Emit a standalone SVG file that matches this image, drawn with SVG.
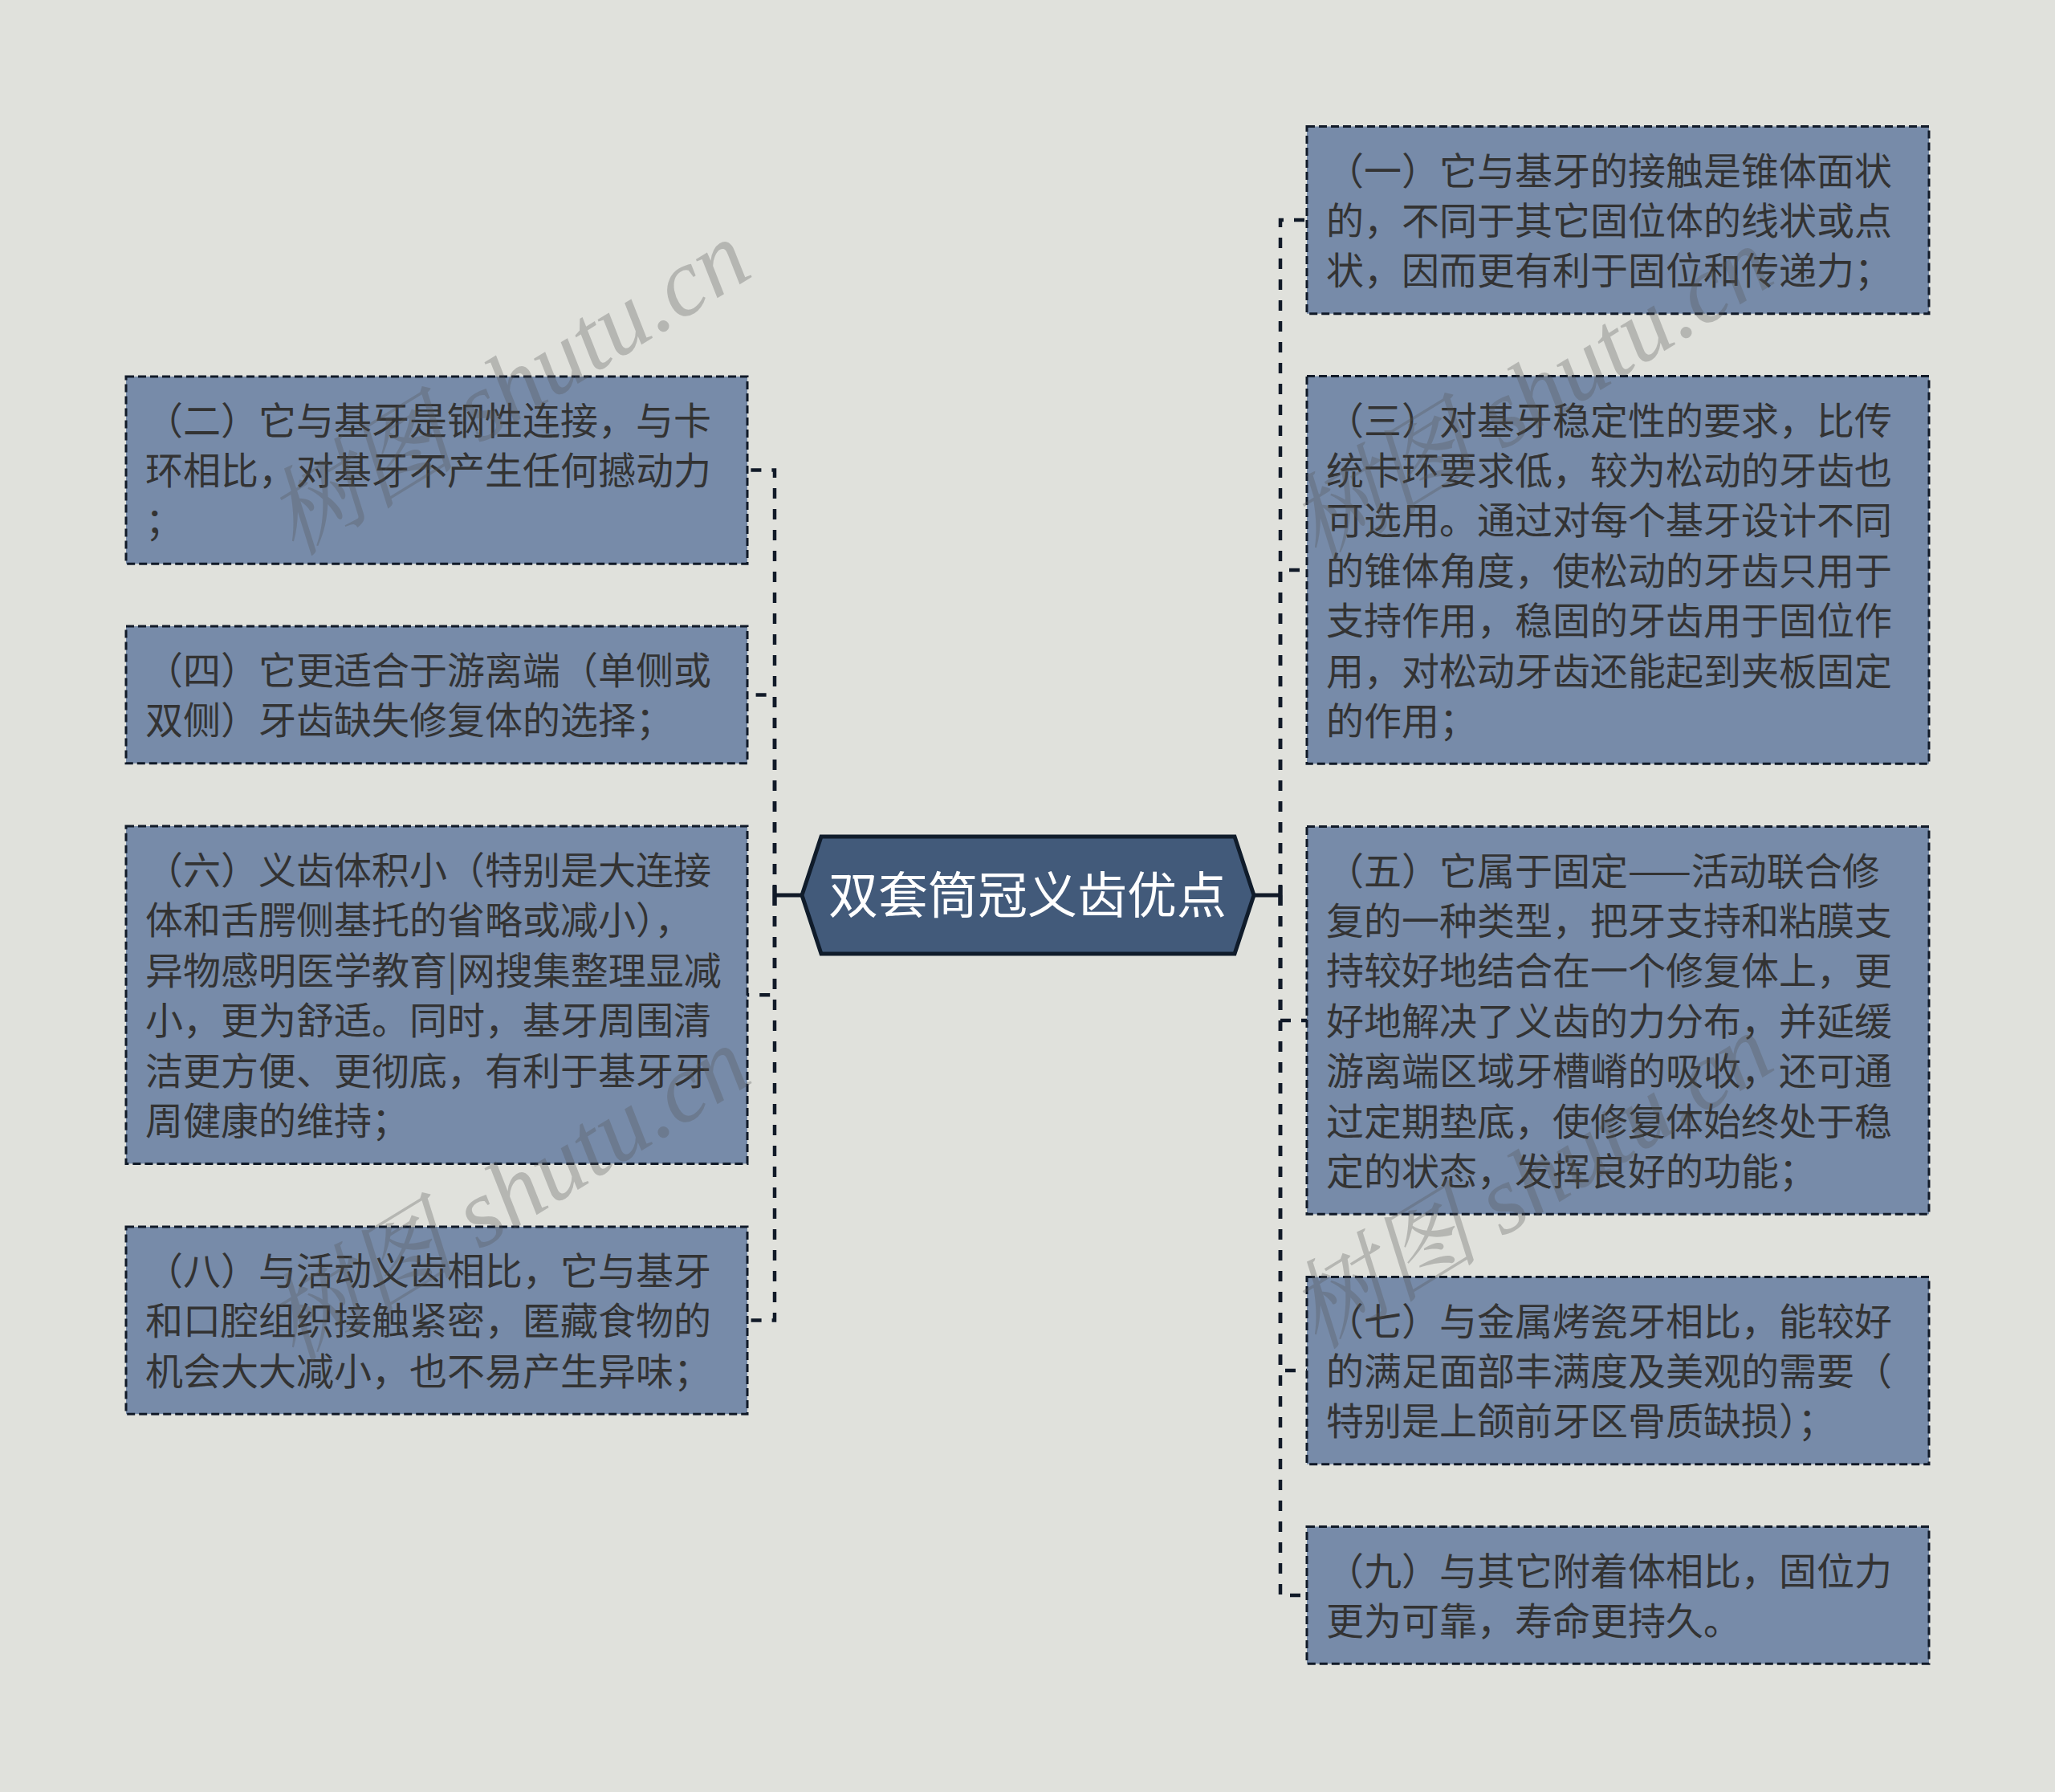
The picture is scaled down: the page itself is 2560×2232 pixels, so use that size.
<svg xmlns="http://www.w3.org/2000/svg" width="2560" height="2232" viewBox="0 0 2560 2232">
<defs>
<style>
.bg{fill:#E0E1DC}
.box{fill:#778BA9;stroke:#111A28;stroke-width:3;stroke-dasharray:10 5}
.t{font-family:"Noto Sans CJK SC","Noto Sans",sans-serif;font-size:47px;fill:#333333}
.hex{fill:#425A7A;stroke:#101C2B;stroke-width:5}
.title{font-family:"Noto Sans CJK SC","Noto Sans",sans-serif;font-size:62px;fill:#FFFFFF;text-anchor:middle}
.conn{fill:none;stroke:#111A28;stroke-width:4.5;stroke-dasharray:13 13}
.solid{fill:none;stroke:#111A28;stroke-width:5}
.wm{font-family:"Liberation Serif","Noto Serif CJK SC","Noto Sans CJK SC",serif;font-style:italic;font-size:120px;fill:#555555;opacity:0.3}
</style>
</defs>
<rect class="bg" x="0" y="0" width="2560" height="2232"/>

<g id="connectors">
<path class="solid" d="M999 1115 H965 M965 1103 V1128"/>
<path class="solid" d="M1562 1115 H1595 M1595 1103 V1128"/>
<path class="conn" d="M965 1115 V585.6 H931"/>
<path class="conn" d="M965 1115 V865.4 H931"/>
<path class="conn" d="M965 1115 V1239.2 H931"/>
<path class="conn" d="M965 1115 V1644.6 H931"/>
<path class="conn" d="M1595 1115 V274 H1628"/>
<path class="conn" d="M1595 1115 V710 H1628"/>
<path class="conn" d="M1595 1115 V1271 H1628"/>
<path class="conn" d="M1595 1115 V1707 H1628"/>
<path class="conn" d="M1595 1115 V1987 H1628"/>
</g>

<g id="root">
<polygon class="hex" points="999,1115 1023,1042 1538,1042 1562,1115 1538,1188 1023,1188"/>
<text class="title" x="1280" y="1138">双套筒冠义齿优点</text>
</g>

<g id="n2">
<rect class="box" x="157" y="469" width="774" height="233.2"/>
<text class="t"><tspan x="181" y="541">（二）它与基牙是钢性连接，与卡</tspan><tspan x="181" y="603.4">环相比，对基牙不产生任何撼动力</tspan><tspan x="181" y="665.8">；</tspan></text>
</g>

<g id="n4">
<rect class="box" x="157" y="780" width="774" height="170.8"/>
<text class="t"><tspan x="181" y="852">（四）它更适合于游离端（单侧或</tspan><tspan x="181" y="914.4">双侧）牙齿缺失修复体的选择；</tspan></text>
</g>

<g id="n6">
<rect class="box" x="157" y="1029" width="774" height="420.4"/>
<text class="t"><tspan x="181" y="1101">（六）义齿体积小（特别是大连接</tspan><tspan x="181" y="1163.4">体和舌腭侧基托的省略或减小），</tspan><tspan x="181" y="1225.8">异物感明医学教育|网搜集整理显减</tspan><tspan x="181" y="1288.2">小，更为舒适。同时，基牙周围清</tspan><tspan x="181" y="1350.6">洁更方便、更彻底，有利于基牙牙</tspan><tspan x="181" y="1413">周健康的维持；</tspan></text>
</g>

<g id="n8">
<rect class="box" x="157" y="1528" width="774" height="233.2"/>
<text class="t"><tspan x="181" y="1600">（八）与活动义齿相比，它与基牙</tspan><tspan x="181" y="1662.4">和口腔组织接触紧密，匿藏食物的</tspan><tspan x="181" y="1724.8">机会大大减小，也不易产生异味；</tspan></text>
</g>

<g id="n1">
<rect class="box" x="1628" y="157.5" width="775" height="233.2"/>
<text class="t"><tspan x="1652" y="229.5">（一）它与基牙的接触是锥体面状</tspan><tspan x="1652" y="291.9">的，不同于其它固位体的线状或点</tspan><tspan x="1652" y="354.3">状，因而更有利于固位和传递力；</tspan></text>
</g>

<g id="n3">
<rect class="box" x="1628" y="468.5" width="775" height="482.8"/>
<text class="t"><tspan x="1652" y="540.5">（三）对基牙稳定性的要求，比传</tspan><tspan x="1652" y="602.9">统卡环要求低，较为松动的牙齿也</tspan><tspan x="1652" y="665.3">可选用。通过对每个基牙设计不同</tspan><tspan x="1652" y="727.7">的锥体角度，使松动的牙齿只用于</tspan><tspan x="1652" y="790.1">支持作用，稳固的牙齿用于固位作</tspan><tspan x="1652" y="852.5">用，对松动牙齿还能起到夹板固定</tspan><tspan x="1652" y="914.9">的作用；</tspan></text>
</g>

<g id="n5">
<rect class="box" x="1628" y="1029.5" width="775" height="482.8"/>
<text class="t"><tspan x="1652" y="1101.5">（五）它属于固定——活动联合修</tspan><tspan x="1652" y="1163.9">复的一种类型，把牙支持和粘膜支</tspan><tspan x="1652" y="1226.3">持较好地结合在一个修复体上，更</tspan><tspan x="1652" y="1288.7">好地解决了义齿的力分布，并延缓</tspan><tspan x="1652" y="1351.1">游离端区域牙槽嵴的吸收，还可通</tspan><tspan x="1652" y="1413.5">过定期垫底，使修复体始终处于稳</tspan><tspan x="1652" y="1475.9">定的状态，发挥良好的功能；</tspan></text>
</g>

<g id="n7">
<rect class="box" x="1628" y="1590.5" width="775" height="233.2"/>
<text class="t"><tspan x="1652" y="1662.5">（七）与金属烤瓷牙相比，能较好</tspan><tspan x="1652" y="1724.9">的满足面部丰满度及美观的需要（</tspan><tspan x="1652" y="1787.3">特别是上颌前牙区骨质缺损）；</tspan></text>
</g>

<g id="n9">
<rect class="box" x="1628" y="1901.5" width="775" height="170.8"/>
<text class="t"><tspan x="1652" y="1973.5">（九）与其它附着体相比，固位力</tspan><tspan x="1652" y="2035.9">更为可靠，寿命更持久。</tspan></text>
</g>

<g id="watermarks">
<text class="wm" transform="translate(367 694) rotate(-31.5)">树图 shutu.cn</text>
<text class="wm" transform="translate(367 1698) rotate(-31.5)">树图 shutu.cn</text>
<text class="wm" transform="translate(1641 702) rotate(-31.5)">树图 shutu.cn</text>
<text class="wm" transform="translate(1641 1682) rotate(-31.5)">树图 shutu.cn</text>
</g>
</svg>
